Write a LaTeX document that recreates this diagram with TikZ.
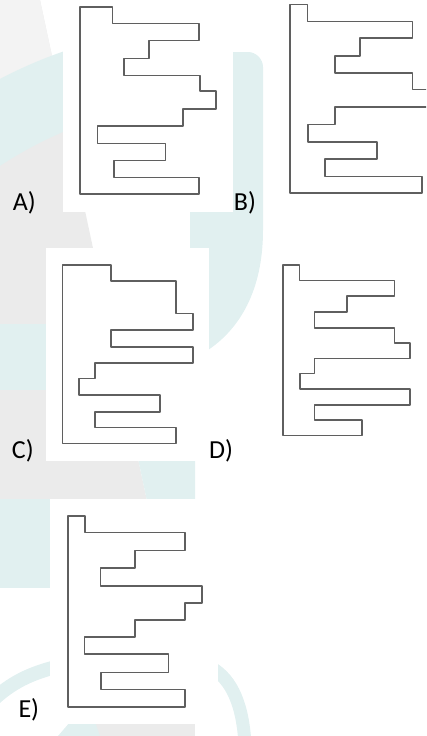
\documentclass[tikz,border=0pt]{standalone}
\usepackage{fontspec}
\setmainfont{Carlito}
\usepackage{tikz}
\definecolor{figgray}{HTML}{5F5F5F}
\definecolor{wmgray}{HTML}{EBEBEB}
\definecolor{wmlight}{HTML}{F3F3F3}
\definecolor{wmteal}{HTML}{E1F0F0}

\begin{document}
\begin{tikzpicture}[x=1pt, y=-1pt,
  outline/.style={draw=figgray, line width=1.6pt, line join=round},
  optlabel/.style={anchor=base west, inner sep=0pt, font=\fontsize{26}{30}\selectfont}]
  \useasboundingbox (0,0) rectangle (426,736);
  \clip (0,0) rectangle (426,736);
  % watermark
  \fill[wmgray] (0,0) -- (40,0) -- (146.6,499) -- (0,499) -- cycle;
  \fill[wmlight] (0,0) -- (40,0) -- (55,70) -- (0,95) -- cycle;
  \begin{scope}
    \clip (0,0) rectangle (63,250);
    \fill[wmteal, even odd rule] (220,500) circle (475pt) (220,500) circle (400pt);
  \end{scope}
  \fill[wmteal] (190,52) -- (248,52) .. controls (256,52) and (263,59) .. (263,67) -- (263,230)
    .. controls (263,290) and (240,330) .. (205,352) -- (190,352) -- cycle;
  \fill[wmteal] (138.5,461) -- (195,461) -- (195,499) -- (146.6,499) -- cycle;
  \fill[wmteal] (0,324) rectangle (50,390);
  \fill[wmteal] (0,499) rectangle (50,588);
  \draw[wmteal, line width=14pt] (-5,698) .. controls (15,680) and (35,672) .. (60,666);
  \draw[wmteal, line width=13pt] (212,668) .. controls (232,680) and (243,705) .. (245,745);
  \fill[wmgray] (95,724) rectangle (195,736);
  \fill[wmteal] (58,736) -- (70,722) -- (95,722) -- (100,736) -- cycle;
  % white panels
  \fill[white] (63,0) rectangle (233,212);
  \fill[white] (46,248) rectangle (209,461);
  \fill[white] (50,499) rectangle (218,724);
  % Option A
  \draw[outline] (80,6.7) -| (112.3,23.3) -| (198.7,40.3) -| (148.7,58.3) -| (124,75.3)
    -| (199.7,91) -| (215.7,109) -| (182.7,125.7) -| (97.3,143.3) -| (165.3,160.3)
    -| (114,177.3) -| (198.7,193.7) -| (80,6.7) -- cycle;
  \node[optlabel] (labA) at (12.7,210.7) {A)};
  % Option B
  \draw[outline] (290,4.3) -| (307.3,21.3) -| (412.3,37.7) -| (360,55.7) -| (334.7,72.7)
    -| (412.3,89.3) -| (440,107) -| (334.7,124.3) -| (307.7,141.7) -| (376.7,159)
    -| (325,176.3) -| (421.7,192.7) -| (290,4.3) -- cycle;
  \node[optlabel] (labB) at (233.7,210.5) {B)};
  % Option C
  \draw[outline] (62.3,265) -| (111,281) -| (176,313.3) -| (193,330) -| (111,346.7)
    -| (193,362.7) -| (94.7,378.3) -| (79,394.7) -| (160,411.7) -| (95,427.3)
    -| (176,443.3) -| (62.3,265) -- cycle;
  \node[optlabel] (labC) at (11.7,458.5) {C)};
  % Option D
  \draw[outline] (282.7,265) -| (299.3,280.3) -| (394.3,296) -| (346.7,311.7) -| (314.3,327.7)
    -| (394.3,343) -| (410,358.3) -| (314.3,373.3) -| (299.7,389) -| (410,405)
    -| (314.3,420) -| (361.7,435.3) -| (282.7,265) -- cycle;
  \node[optlabel] (labD) at (209,458.3) {D)};
  % Option E
  \draw[outline] (67.7,516) -| (85,532.3) -| (185,550.3) -| (135,567.7) -| (100.3,585.7)
    -| (201.7,603) -| (185,620) -| (135,636.7) -| (84.3,654) -| (168.3,672.3)
    -| (101,689.3) -| (185,706.7) -| (67.7,516) -- cycle;
  \node[optlabel] (labE) at (18.3,717) {E)};
\end{tikzpicture}
\end{document}
